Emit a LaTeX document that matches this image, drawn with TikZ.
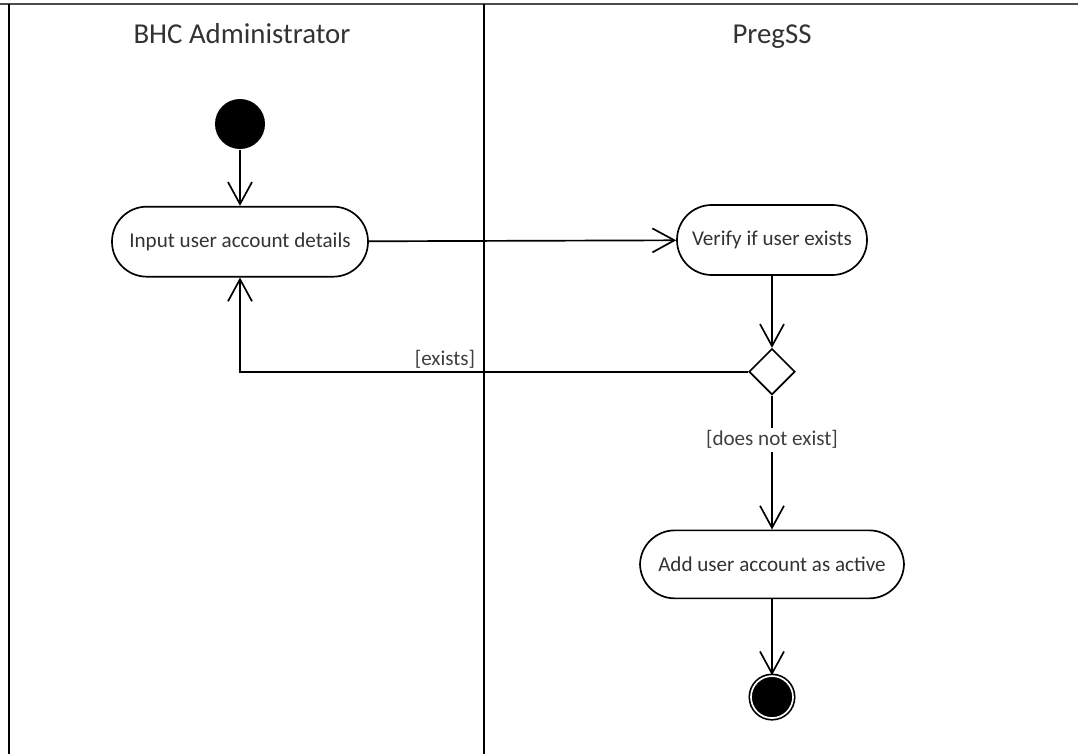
\documentclass[tikz,border=0pt]{standalone}
\usepackage{fontspec}
\setmainfont{Carlito}
\usepackage{xcolor}
\usepackage{tikz}
\usetikzlibrary{positioning,shapes.geometric,arrows.meta}

\begin{document}
\begin{tikzpicture}[node distance=1.4cm,
  line width=1.2pt,
  act/.style={draw, rectangle, rounded corners=0.87cm, minimum height=1.75cm, font=\fontsize{15}{18}\selectfont, text=black!80},
  lane/.style={font=\fontsize{20.5}{24}\selectfont, text=black!80, anchor=base},
  flow/.style={-{Straight Barb[length=5.5mm, width=6mm]}},
  guard/.style={font=\fontsize{15}{18}\selectfont, text=black!75, inner sep=2pt}]
\useasboundingbox (0,0) rectangle (26.95,-18.85);

% swimlanes
\draw[black!70, line width=1.8pt] (0,-0.1) -- (26.95,-0.1);
\draw (0.225,-0.1) -- (0.225,-18.85);
\draw (12.1,-0.1) -- (12.1,-18.85);
\node[lane] (admin) at (6.05,-1.1) {BHC Administrator};
\node[lane] (pregss) at (19.3,-1.1) {PregSS};

\node[circle, fill=black, minimum size=1.25cm, inner sep=0] (start) at (6.0,-3.1) {};
\node[act, minimum width=6.4cm, below=of start] (input) {Input user account details};
\node[act, minimum width=4.75cm] (verify) at (19.3,-6.0) {Verify if user exists};
\node[draw, diamond, aspect=1, minimum size=1.15cm, inner sep=0, below=1.8cm of verify] (check) {};
\node[act, minimum width=6.6cm, minimum height=1.7cm, below=3.35cm of check] (add) {Add user account as active};
\node[circle, draw, double, double distance=1.2pt, fill=black, minimum size=1.05cm, inner sep=0, below=1.9cm of add] (stop) {};

\draw[flow] (start) -- (input);
\draw[flow] (input) -- (verify);
\draw[flow] (verify) -- (check);
\draw[flow] (check.west) -| node[guard, pos=0.265, anchor=south east] {[exists]} (input.south);
\draw[flow] (check.south) -- node[guard, pos=0.33, fill=white] {[does not exist]} (add);
\draw[flow] (add) -- (stop);

\end{tikzpicture}
\end{document}
